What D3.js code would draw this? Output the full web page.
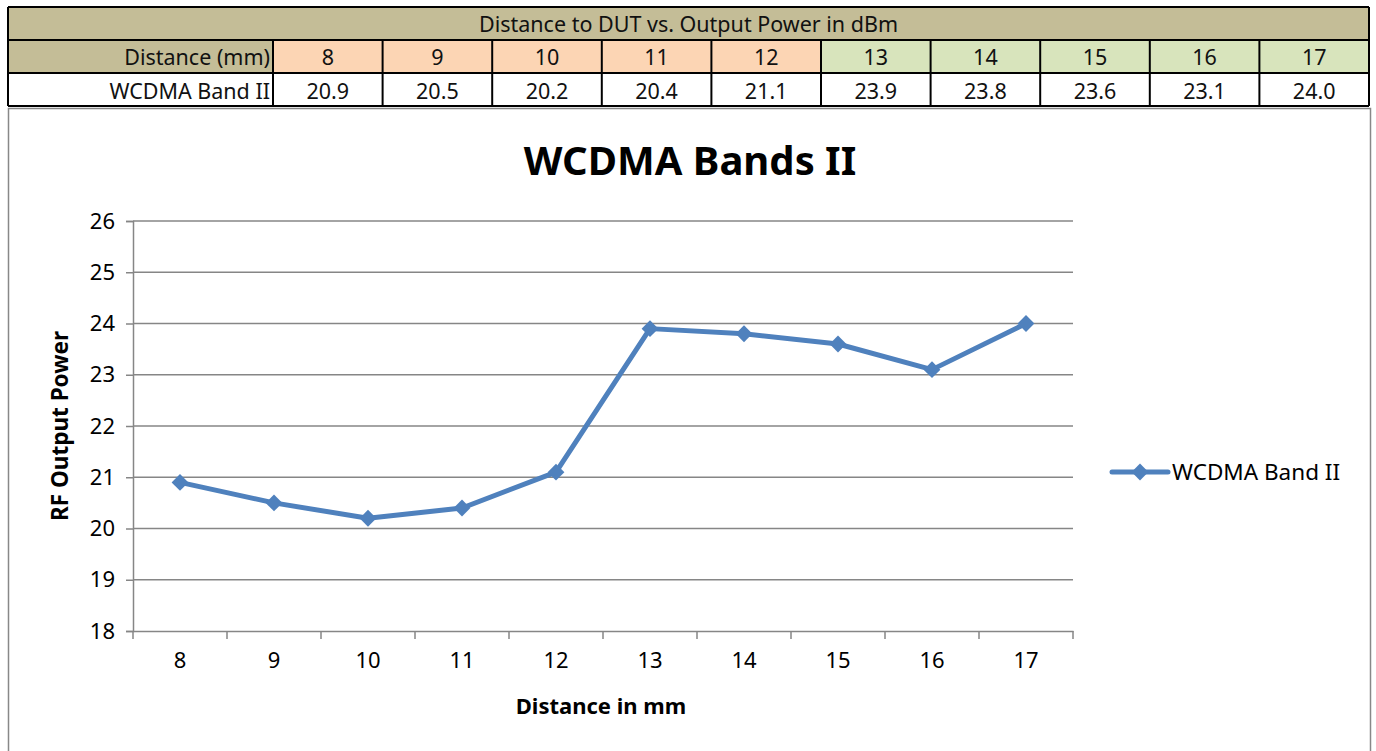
<!DOCTYPE html>
<html>
<head>
<meta charset="utf-8">
<script src="https://cdn.jsdelivr.net/npm/d3@7"></script>
<style>
  body { margin: 0; background: #fff; }
  text { font-family: "Noto Sans", "Open Sans", sans-serif; }
</style>
</head>
<body>
<div id="chart-area"></div>
<script>
// table + chart data
const distances = [8, 9, 10, 11, 12, 13, 14, 15, 16, 17];
const power = [20.9, 20.5, 20.2, 20.4, 21.1, 23.9, 23.8, 23.6, 23.1, 24.0];
const powerLabels = ["20.9", "20.5", "20.2", "20.4", "21.1", "23.9", "23.8", "23.6", "23.1", "24.0"];
const yTicks = [18, 19, 20, 21, 22, 23, 24, 25, 26];
const seriesName = "WCDMA Band II";

const W = 1376, H = 751;
const svg = d3.select("#chart-area").append("svg")
    .attr("width", W).attr("height", H);

// ---- table on top ----
const tLeft = 8, tRight = 1369, firstCol = 273;
const rowY = [7, 40, 73, 106];
const colX = d3.scaleBand().domain(distances).range([firstCol, tRight]);
const tan = "#c4bd97", orange = "#fcd5b4", green = "#d8e4bc";
const tFont = "21.5px";

svg.append("rect").attr("x", tLeft).attr("y", rowY[0])
    .attr("width", tRight - tLeft).attr("height", rowY[1] - rowY[0]).attr("fill", tan);
svg.append("rect").attr("x", tLeft).attr("y", rowY[1])
    .attr("width", firstCol - tLeft).attr("height", rowY[2] - rowY[1]).attr("fill", tan);
svg.selectAll("rect.hdr").data(distances).enter().append("rect")
    .attr("class", "hdr")
    .attr("x", d => colX(d)).attr("y", rowY[1])
    .attr("width", colX.bandwidth()).attr("height", rowY[2] - rowY[1])
    .attr("fill", d => d <= 12 ? orange : green);

svg.append("text").attr("x", (tLeft + tRight) / 2).attr("y", rowY[0] + 25)
    .attr("text-anchor", "middle").attr("font-size", tFont).attr("fill", "#111")
    .text("Distance to DUT vs. Output Power in dBm");
svg.append("text").attr("x", firstCol - 3).attr("y", rowY[1] + 25)
    .attr("text-anchor", "end").attr("font-size", tFont).attr("fill", "#111")
    .text("Distance (mm)");
svg.append("text").attr("x", firstCol - 3).attr("y", rowY[2] + 26)
    .attr("text-anchor", "end").attr("font-size", tFont).attr("fill", "#111")
    .text(seriesName);
svg.selectAll("text.hd").data(distances).enter().append("text")
    .attr("class", "hd")
    .attr("x", d => colX(d) + colX.bandwidth() / 2).attr("y", rowY[1] + 25)
    .attr("text-anchor", "middle").attr("font-size", tFont).attr("fill", "#111")
    .text(d => d);
svg.selectAll("text.val").data(powerLabels).enter().append("text")
    .attr("class", "val")
    .attr("x", (d, i) => colX(distances[i]) + colX.bandwidth() / 2).attr("y", rowY[2] + 26)
    .attr("text-anchor", "middle").attr("font-size", tFont).attr("fill", "#111")
    .text(d => d);

// grid lines of the table
const tg = svg.append("g").attr("stroke", "#000").attr("stroke-width", 2);
rowY.forEach(y => tg.append("line").attr("x1", tLeft).attr("x2", tRight).attr("y1", y).attr("y2", y));
tg.append("line").attr("x1", tLeft).attr("x2", tLeft).attr("y1", rowY[0]).attr("y2", rowY[3]);
tg.append("line").attr("x1", tRight).attr("x2", tRight).attr("y1", rowY[0]).attr("y2", rowY[3]);
[firstCol].concat(distances.map(d => colX(d) + colX.bandwidth())).forEach(x =>
    tg.append("line").attr("x1", x).attr("x2", x).attr("y1", rowY[1]).attr("y2", rowY[3]));

// ---- chart frame ----
svg.append("rect").attr("x", 8.5).attr("y", 108.5)
    .attr("width", 1362).attr("height", 660)
    .attr("fill", "none").attr("stroke", "#888").attr("stroke-width", 1.5);

const margin = {left: 133, top: 221};
const width = 940, height = 410;

const x = d3.scaleBand().domain(distances).range([0, width]);
const y = d3.scaleLinear().domain([18, 26]).range([height, 0]);

const g = svg.append("g").attr("transform", `translate(${margin.left}, ${margin.top})`);

// gridlines
g.append("g").selectAll("line").data(yTicks.filter(t => t > 18)).enter().append("line")
    .attr("x1", 0).attr("x2", width)
    .attr("y1", d => y(d)).attr("y2", d => y(d))
    .attr("stroke", "#868686").attr("stroke-width", 1.5);

// y axis
const yAxis = g.append("g").call(d3.axisLeft(y).tickValues(yTicks).tickSize(7).tickPadding(11));
yAxis.select(".domain").attr("stroke", "#868686").attr("stroke-width", 1.5);
yAxis.selectAll(".tick line").attr("stroke", "#868686").attr("stroke-width", 1.5);
yAxis.selectAll("text").attr("font-size", "22px").attr("fill", "#000")
    .attr("font-family", "Noto Sans");

// x axis (ticks at band edges)
const xAxis = g.append("g").attr("transform", `translate(0, ${height})`)
    .call(d3.axisBottom(x).tickSize(0).tickPadding(21));
xAxis.select(".domain").attr("stroke", "#868686").attr("stroke-width", 1.5);
xAxis.selectAll("text").attr("font-size", "22px").attr("fill", "#000")
    .attr("font-family", "Noto Sans");
g.append("g").selectAll("line")
    .data(distances.map(d => x(d)).concat([width])).enter().append("line")
    .attr("x1", d => d).attr("x2", d => d)
    .attr("y1", height).attr("y2", height + 8)
    .attr("stroke", "#868686").attr("stroke-width", 1.5);

// line + markers
const lineColor = "#4f81bd";
const line = d3.line().x((d, i) => x(distances[i]) + x.bandwidth() / 2).y(d => y(d));
g.append("path").datum(power).attr("d", line)
    .attr("fill", "none").attr("stroke", lineColor).attr("stroke-width", 5)
    .attr("stroke-linejoin", "round");
const diamond = d3.symbol().type(d3.symbolDiamond2).size(180);
g.selectAll("path.marker").data(power).enter().append("path")
    .attr("class", "marker")
    .attr("d", diamond)
    .attr("transform", (d, i) => `translate(${x(distances[i]) + x.bandwidth() / 2}, ${y(d)})`)
    .attr("fill", lineColor);

// titles
svg.append("text").attr("x", 690).attr("y", 175)
    .attr("text-anchor", "middle").attr("font-size", "40px").attr("font-weight", "bold")
    .text("WCDMA Bands II");
svg.append("text").attr("x", margin.left + width / 2 - 2).attr("y", 714)
    .attr("text-anchor", "middle").attr("font-size", "22px").attr("font-weight", "bold")
    .text("Distance in mm");
svg.append("text").attr("transform", `translate(68, ${margin.top + height / 2}) rotate(-90)`)
    .attr("text-anchor", "middle").attr("font-size", "22.5px").attr("font-weight", "bold")
    .text("RF Output Power");

// legend
const lg = svg.append("g").attr("transform", "translate(1112, 472)");
lg.append("line").attr("x1", 0).attr("x2", 56).attr("y1", 0).attr("y2", 0)
    .attr("stroke", lineColor).attr("stroke-width", 5).attr("stroke-linecap", "round");
lg.append("path").attr("d", diamond).attr("transform", "translate(28, 0)").attr("fill", lineColor);
lg.append("text").attr("x", 60).attr("y", 8).attr("font-size", "22.5px").text(seriesName);
</script>
</body>
</html>
